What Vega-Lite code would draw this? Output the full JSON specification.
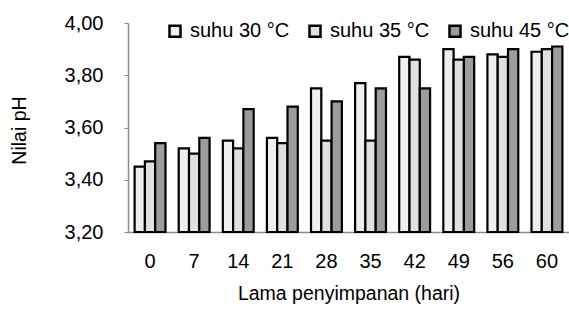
{
  "$schema": "https://vega.github.io/schema/vega-lite/v6.json",
  "autosize": "none",
  "padding": {"left": 128, "top": 23, "right": 0, "bottom": 77},
  "width": 441,
  "height": 209,
  "background": "white",
  "config": {
    "font": "Liberation Sans",
    "view": {"stroke": null},
    "axis": {"grid": false, "domainColor": "#8c8c8c", "domainWidth": 1.5, "tickColor": "#8c8c8c", "labelColor": "#000000", "titleColor": "#000000", "labelFont": "Liberation Sans", "titleFont": "Liberation Sans", "titleFontWeight": "normal"}
  },
  "data": {
    "values": [
      {"hari": "0", "suhu": "suhu 30 °C", "ph": 3.45},
      {"hari": "0", "suhu": "suhu 35 °C", "ph": 3.47},
      {"hari": "0", "suhu": "suhu 45 °C", "ph": 3.54},
      {"hari": "7", "suhu": "suhu 30 °C", "ph": 3.52},
      {"hari": "7", "suhu": "suhu 35 °C", "ph": 3.50},
      {"hari": "7", "suhu": "suhu 45 °C", "ph": 3.56},
      {"hari": "14", "suhu": "suhu 30 °C", "ph": 3.55},
      {"hari": "14", "suhu": "suhu 35 °C", "ph": 3.52},
      {"hari": "14", "suhu": "suhu 45 °C", "ph": 3.67},
      {"hari": "21", "suhu": "suhu 30 °C", "ph": 3.56},
      {"hari": "21", "suhu": "suhu 35 °C", "ph": 3.54},
      {"hari": "21", "suhu": "suhu 45 °C", "ph": 3.68},
      {"hari": "28", "suhu": "suhu 30 °C", "ph": 3.75},
      {"hari": "28", "suhu": "suhu 35 °C", "ph": 3.55},
      {"hari": "28", "suhu": "suhu 45 °C", "ph": 3.70},
      {"hari": "35", "suhu": "suhu 30 °C", "ph": 3.77},
      {"hari": "35", "suhu": "suhu 35 °C", "ph": 3.55},
      {"hari": "35", "suhu": "suhu 45 °C", "ph": 3.75},
      {"hari": "42", "suhu": "suhu 30 °C", "ph": 3.87},
      {"hari": "42", "suhu": "suhu 35 °C", "ph": 3.86},
      {"hari": "42", "suhu": "suhu 45 °C", "ph": 3.75},
      {"hari": "49", "suhu": "suhu 30 °C", "ph": 3.90},
      {"hari": "49", "suhu": "suhu 35 °C", "ph": 3.86},
      {"hari": "49", "suhu": "suhu 45 °C", "ph": 3.87},
      {"hari": "56", "suhu": "suhu 30 °C", "ph": 3.88},
      {"hari": "56", "suhu": "suhu 35 °C", "ph": 3.87},
      {"hari": "56", "suhu": "suhu 45 °C", "ph": 3.90},
      {"hari": "60", "suhu": "suhu 30 °C", "ph": 3.89},
      {"hari": "60", "suhu": "suhu 35 °C", "ph": 3.90},
      {"hari": "60", "suhu": "suhu 45 °C", "ph": 3.91}
    ]
  },
  "mark": {"type": "bar", "stroke": "#000000", "strokeWidth": 2.2},
  "encoding": {
    "x": {
      "field": "hari",
      "type": "ordinal",
      "sort": ["0", "7", "14", "21", "28", "35", "42", "49", "56", "60"],
      "scale": {"paddingInner": 0.3, "paddingOuter": 0.15},
      "axis": {"title": "Lama penyimpanan (hari)", "labelAngle": 0, "ticks": false, "tickSize": 0, "labelFontSize": 20, "labelPadding": 29, "labelBaseline": "middle", "titleFontSize": 19.5, "titleBaseline": "middle", "titleY": 61}
    },
    "xOffset": {
      "field": "suhu",
      "type": "nominal",
      "sort": ["suhu 30 °C", "suhu 35 °C", "suhu 45 °C"],
      "scale": {"paddingInner": 0, "paddingOuter": 0}
    },
    "y": {
      "field": "ph",
      "type": "quantitative",
      "scale": {"domain": [3.2, 4.0], "nice": false, "zero": false},
      "axis": {"title": "Nilai pH", "values": [3.2, 3.4, 3.6, 3.8, 4.0], "format": ".2f", "labelExpr": "replace(datum.label, '.', ',')", "labelFontSize": 20, "tickSize": 4, "labelPadding": 21, "titleFontSize": 19.5, "titleAngle": -90, "titleX": -109, "titleY": 107, "titleAlign": "center", "titleBaseline": "middle"}
    },
    "y2": {"datum": 3.2},
    "fill": {
      "field": "suhu",
      "type": "nominal",
      "sort": ["suhu 30 °C", "suhu 35 °C", "suhu 45 °C"],
      "scale": {"range": ["#efefef", "#e0e0e0", "#9c9c9c"]},
      "legend": {"title": null, "orient": "none", "direction": "horizontal", "columns": 3, "legendX": 37, "legendY": -2, "padding": 0, "symbolType": "square", "symbolSize": 121, "symbolStrokeColor": "#000000", "symbolStrokeWidth": 2.5, "labelFontSize": 20, "labelColor": "#000000", "labelOffset": 5, "columnPadding": 14, "labelLimit": 200}
    }
  }
}
